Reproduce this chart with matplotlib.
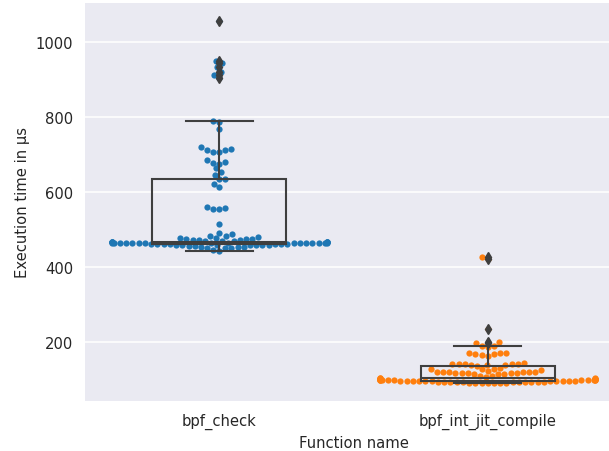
import numpy as np
import matplotlib
matplotlib.use("Agg")
import matplotlib.pyplot as plt

# function names on the x axis
functions = ["bpf_check", "bpf_int_jit_compile"]

# execution times in microseconds
bpf_check = [
    1057, 950, 943, 933, 920, 913, 904,
    789, 787, 767, 719, 714, 713, 712, 708, 707,
    685, 681, 678, 676, 663, 653, 646,
    636, 634, 623, 614,
    560, 559, 556, 555, 515,
    491, 488, 483, 482, 480, 478,
    468.5, 470, 471, 472, 472.5, 473.5, 474, 474.5, 475.5, 476.5,
    463.2, 463.4, 463.5, 463.7, 463.9, 464.0, 464.2, 464.4, 464.5, 464.7,
    464.9, 465.0, 465.2, 465.4, 465.5, 465.7, 465.9, 466.0, 466.1, 466.2,
    466.3, 466.4, 466.5, 466.6,
    458.0, 458.4, 458.8, 459.2, 459.6, 460.0, 460.4, 460.8, 461.2, 461.6,
    462.0, 462.4, 462.7, 463.0,
    450, 451, 452, 453, 454, 455, 456, 457,
    444.5, 446.5,
]
bpf_int_jit_compile = [
    427, 421, 235, 201, 198,
    190, 189, 188,
    172, 171.5, 171, 170, 168, 166, 164,
    143.5, 143, 142.5, 142, 141.5, 141, 140.5, 140, 139, 138,
    131, 130, 129, 128, 126,
    122.5, 122, 121.5, 121, 120.5, 120, 119.5, 119, 118.5, 118, 117.5, 117,
    116.5, 116, 115,
    111, 109, 107, 105, 104, 103.5, 103, 102.6, 102.2, 101.8,
    93.0, 93.2, 93.5, 93.7, 94.0, 94.2, 94.5, 94.7, 95.0, 95.2, 95.5, 95.7,
    96.0, 96.2, 96.5, 96.7, 97.0, 97.2, 97.5, 97.7, 98.0, 98.2, 98.5, 98.7,
    99.0, 99.2, 99.5, 99.7, 100.0, 100.2, 100.5, 100.7, 101.0, 101.2, 101.5,
    91.0, 91.3, 91.6, 91.9, 92.2, 92.4, 92.6, 92.8,
]
series = [bpf_check, bpf_int_jit_compile]
colors = ["#1f77b4", "#ff7f0e"]
gray = "#3f3f3f"
text_color = "#262626"


def swarm_offsets(ax, center, values, diameter, gutter):
    # beeswarm layout in pixel space, points placed in order of value
    pts = ax.transData.transform(np.column_stack([np.full(len(values), center), values]))
    ys = pts[:, 1]
    order = np.argsort(ys, kind="stable")
    placed_x = []
    placed_y = []
    offsets = np.zeros(len(values))
    for i in order:
        y = ys[i]
        px = np.array(placed_x)
        py = np.array(placed_y)
        if len(py):
            near = np.abs(py - y) < diameter
        else:
            near = np.zeros(0, dtype=bool)
        nx, ny = px[near], py[near]
        dx = np.sqrt(diameter ** 2 - (ny - y) ** 2)
        cands = np.concatenate([[0.0], nx - dx, nx + dx])
        cands = cands[np.lexsort((cands, np.abs(cands)))]
        best = cands[-1]
        for c in cands:
            if np.all((nx - c) ** 2 + (ny - y) ** 2 >= diameter ** 2 - 1e-6):
                best = c
                break
        offsets[i] = best
        placed_x.append(best)
        placed_y.append(y)
    return np.clip(offsets, -gutter, gutter)


fig = plt.figure(figsize=(6.09, 4.52), dpi=100)
ax = fig.add_axes([85 / 609, 1 - 402.3 / 452, 537 / 609, (402.3 - 3.5) / 452])
ax.set_facecolor("#EAEAF2")
for s in ax.spines.values():
    s.set_visible(False)
ax.set_axisbelow(True)
ax.yaxis.grid(True, color="white", linewidth=1.1)
ax.xaxis.grid(False)

ax.boxplot(
    series, positions=[0, 1], widths=0.5, patch_artist=True,
    boxprops=dict(facecolor="none", edgecolor=gray, linewidth=1.5),
    whiskerprops=dict(color=gray, linewidth=1.5),
    capprops=dict(color=gray, linewidth=1.5),
    medianprops=dict(color=gray, linewidth=1.5),
    flierprops=dict(marker="d", markerfacecolor=gray, markeredgecolor=gray, markersize=5.5),
    zorder=3,
)
ax.set_xlim(-0.5, 1.5)
ax.autoscale_view()
ax.set_ylim(ax.get_ylim())

marker_size = 4.5
diameter = marker_size * fig.dpi / 72
px_per_unit = ax.transData.transform((1, 0))[0] - ax.transData.transform((0, 0))[0]
for pos, vals, col in zip([0, 1], series, colors):
    off = swarm_offsets(ax, pos, vals, diameter, 0.4 * px_per_unit)
    ax.scatter(pos + off / px_per_unit, vals, s=marker_size ** 2, color=col,
               linewidths=0, zorder=2)

ax.set_xticks([0, 1])
ax.set_xticklabels(functions)
ax.set_yticks([200, 400, 600, 800, 1000])
ax.tick_params(axis="both", length=0, labelsize=10.6, colors=text_color, pad=8.5)
ax.set_xlabel("Function name", fontsize=10.6, color=text_color, labelpad=4)
ax.set_ylabel("Execution time in µs", fontsize=10.6, color=text_color, labelpad=4)

fig.savefig("out.png", dpi=100)
